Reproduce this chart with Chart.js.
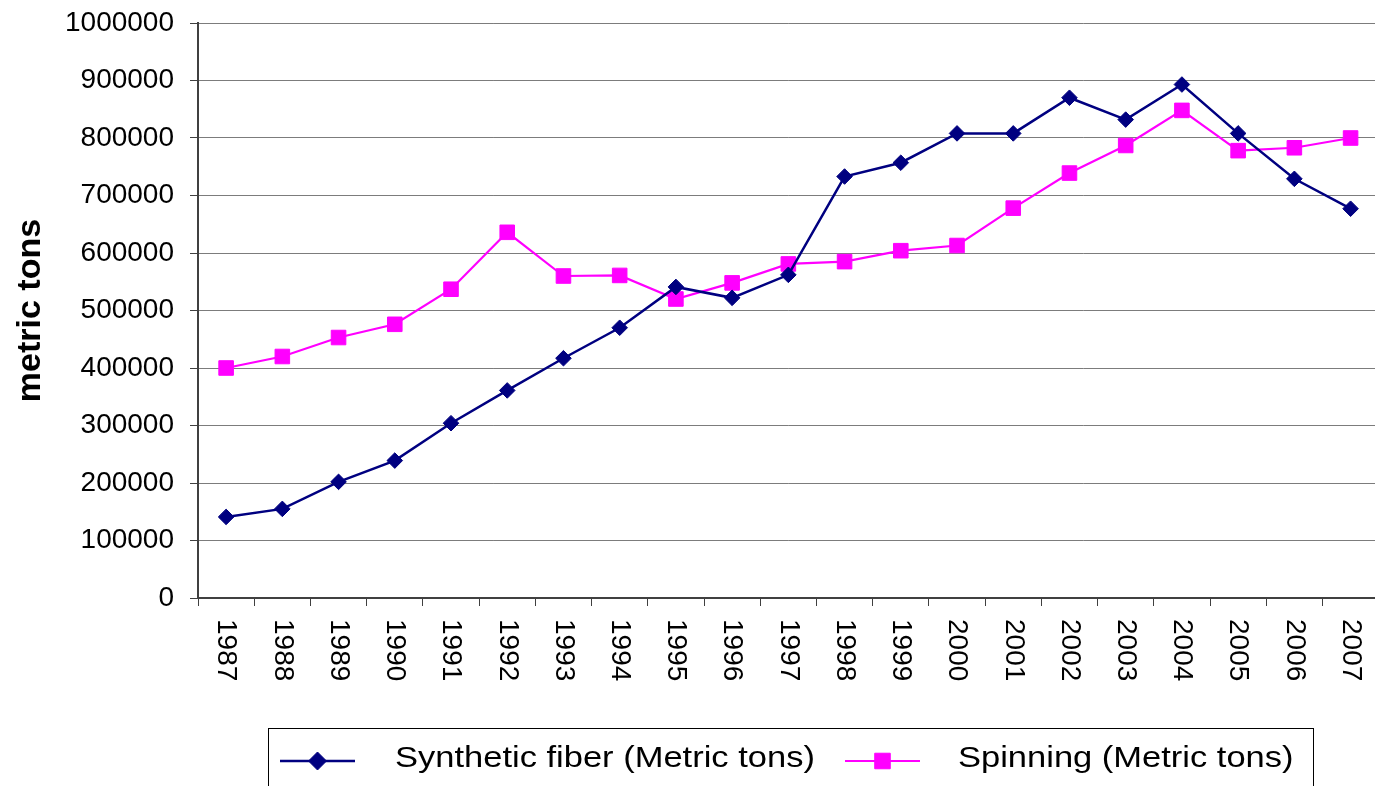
<!DOCTYPE html>
<html>
<head>
<meta charset="utf-8">
<script src="https://cdn.jsdelivr.net/npm/chart.js@4/dist/chart.umd.min.js"></script>
<style>
  html, body { margin: 0; padding: 0; background: #fff; overflow: hidden; width: 1375px; height: 786px; }
  canvas { display: block; position: absolute; left: 0; top: 0; }
</style>
</head>
<body>
<canvas id="chart" width="1390" height="786"></canvas>
<script>
// Annual output, metric tons
const years = ['1987','1988','1989','1990','1991','1992','1993','1994','1995','1996','1997',
               '1998','1999','2000','2001','2002','2003','2004','2005','2006','2007'];
const syntheticFiber = [141000, 155000, 202000, 239000, 304000, 361000, 417000, 470000, 541000, 522000, 562000,
                        733000, 757000, 808000, 808000, 870000, 832000, 893000, 808000, 729000, 677000];
const spinning = [400000, 420000, 453000, 476000, 537000, 636000, 560000, 561000, 520000, 548000, 581000,
                  585000, 604000, 613000, 678000, 739000, 787000, 848000, 778000, 783000, 800000];
const seriesNames = ['Synthetic fiber (Metric tons)', 'Spinning (Metric tons)'];
const yMin = 0, yMax = 1000000, yStep = 100000;
const yTitle = 'metric tons';

const FONT = "'Liberation Sans', Arial, Helvetica, sans-serif";

// Fallback marker painter in case helpers are not exposed
function paintMarker(ctx, style, r, x, y) {
  if (Chart.helpers && Chart.helpers.drawPoint) {
    Chart.helpers.drawPoint(ctx, { pointStyle: style, radius: r, rotation: 0, borderWidth: 1 }, x, y);
    return;
  }
  ctx.beginPath();
  if (style === 'rectRot') {
    ctx.moveTo(x - r, y); ctx.lineTo(x, y - r); ctx.lineTo(x + r, y); ctx.lineTo(x, y + r);
  } else {
    const s = Math.SQRT1_2 * r;
    ctx.rect(x - s, y - s, 2 * s, 2 * s);
  }
  ctx.closePath(); ctx.fill(); ctx.stroke();
}

// Year labels on the category axis, rotated to read downward
const yearLabels = {
  id: 'yearLabels',
  afterDraw(chart) {
    const xs = chart.scales.x, ctx = chart.ctx;
    ctx.save();
    ctx.fillStyle = '#000';
    ctx.font = '28px ' + FONT;
    ctx.textAlign = 'left';
    ctx.textBaseline = 'middle';
    chart.data.labels.forEach((lab, i) => {
      const x = xs.getPixelForValue(i);
      ctx.save();
      ctx.translate(x, xs.top + 21);
      ctx.rotate(Math.PI / 2);
      ctx.fillText(lab, 0, 0);
      ctx.restore();
    });
    ctx.restore();
  }
};

// Boxed series key under the axis
const seriesKey = {
  id: 'seriesKey',
  afterDraw(chart) {
    const ctx = chart.ctx;
    const slots = [{ line: 280, text: 395 }, { line: 845, text: 958 }];
    const markerR = [9, 11];
    const cy = 761;
    ctx.save();
    ctx.strokeStyle = '#000';
    ctx.lineWidth = 1;
    ctx.strokeRect(268.5, 728.5, 1045, 80);
    chart.data.datasets.forEach((ds, i) => {
      const s = slots[i];
      ctx.strokeStyle = ds.borderColor;
      ctx.lineWidth = ds.borderWidth;
      ctx.beginPath();
      ctx.moveTo(s.line, cy);
      ctx.lineTo(s.line + 75, cy);
      ctx.stroke();
      ctx.fillStyle = ds.pointBackgroundColor;
      ctx.strokeStyle = ds.pointBorderColor;
      ctx.lineWidth = 1;
      paintMarker(ctx, ds.pointStyle, markerR[i], s.line + 37.5, cy);
      ctx.save();
      ctx.translate(s.text, 767);
      ctx.scale(1, 0.87);
      ctx.fillStyle = '#000';
      ctx.font = '34.5px ' + FONT;
      ctx.textAlign = 'left';
      ctx.textBaseline = 'alphabetic';
      ctx.fillText(ds.label, 0, 0);
      ctx.restore();
    });
    ctx.restore();
  }
};

new Chart(document.getElementById('chart'), {
  type: 'line',
  data: {
    labels: years,
    datasets: [
      {
        label: seriesNames[0],
        data: syntheticFiber,
        borderColor: '#000080',
        backgroundColor: '#000080',
        borderWidth: 2.5,
        pointStyle: 'rectRot',
        pointRadius: 7.8,
        pointBackgroundColor: '#000080',
        pointBorderColor: '#000080',
        pointBorderWidth: 1,
        tension: 0,
        fill: false
      },
      {
        label: seriesNames[1],
        data: spinning,
        borderColor: '#FF00FF',
        backgroundColor: '#FF00FF',
        borderWidth: 2.2,
        pointStyle: 'rect',
        pointRadius: 10.3,
        pointBackgroundColor: '#FF00FF',
        pointBorderColor: '#FF00FF',
        pointBorderWidth: 1,
        tension: 0,
        fill: false
      }
    ]
  },
  options: {
    responsive: false,
    animation: false,
    devicePixelRatio: 1,
    layout: { padding: { top: 23, left: 0, right: 0, bottom: 0 } },
    plugins: {
      legend: { display: false },
      tooltip: { enabled: false }
    },
    scales: {
      x: {
        type: 'category',
        offset: true,
        grid: {
          offset: true,
          drawOnChartArea: false,
          drawTicks: true,
          tickLength: 8,
          color: '#404040',
          tickColor: '#404040'
        },
        border: { display: true, color: '#404040', width: 2 },
        ticks: { display: false },
        afterFit(scale) { scale.height = 188; }
      },
      y: {
        min: yMin,
        max: yMax,
        ticks: {
          stepSize: yStep,
          color: '#000',
          padding: 16,
          font: { family: FONT, size: 28 },
          callback: (v) => String(v)
        },
        grid: {
          color: '#7c7c7c',
          lineWidth: 1,
          tickLength: 8,
          tickColor: '#404040'
        },
        border: { display: true, color: '#404040', width: 2 },
        title: {
          display: true,
          text: yTitle,
          color: '#000',
          font: { family: FONT, size: 34, weight: 'bold' },
          padding: { top: 10, bottom: 0 }
        },
        afterFit(scale) {
          scale.width = 198;
          scale.paddingTop = 0;
          scale.paddingBottom = 0;
        }
      }
    }
  },
  plugins: [yearLabels, seriesKey]
});
</script>
</body>
</html>
